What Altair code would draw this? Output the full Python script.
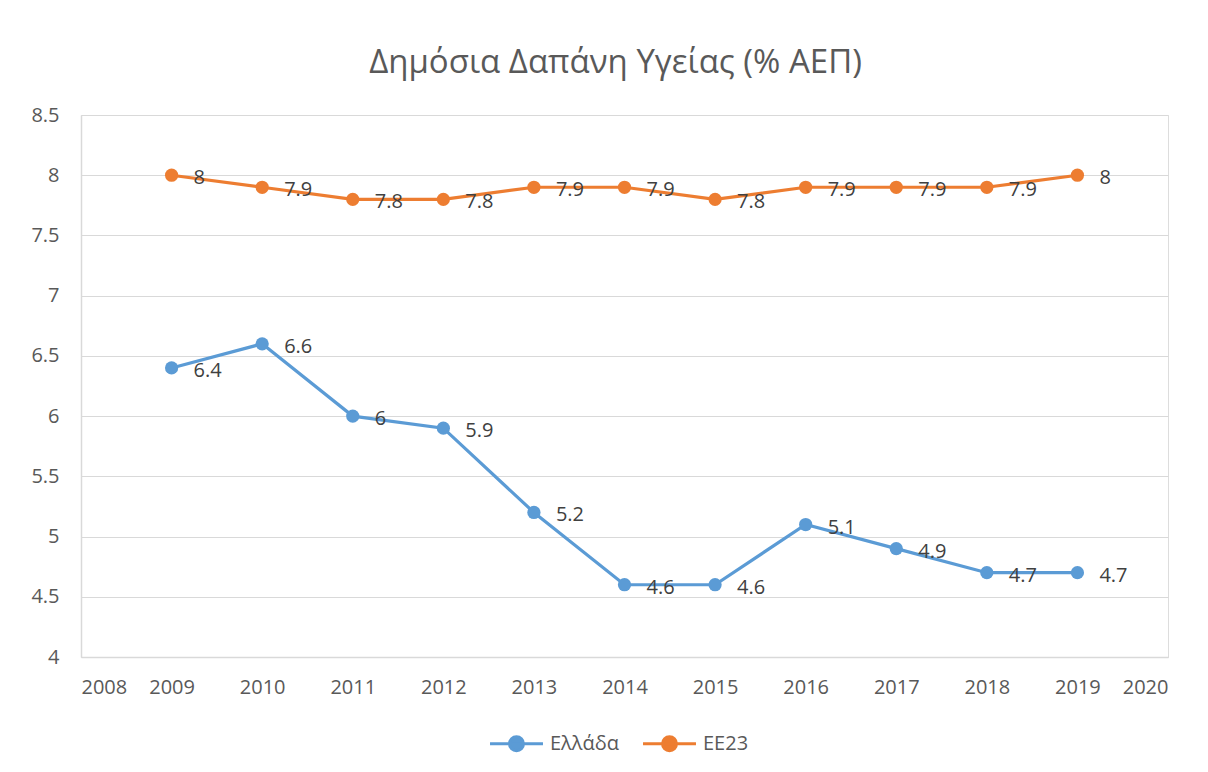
import altair as alt
import pandas as pd

years = [2009, 2010, 2011, 2012, 2013, 2014, 2015, 2016, 2017, 2018, 2019]
greece = [6.4, 6.6, 6.0, 5.9, 5.2, 4.6, 4.6, 5.1, 4.9, 4.7, 4.7]
eu23 = [8.0, 7.9, 7.8, 7.8, 7.9, 7.9, 7.8, 7.9, 7.9, 7.9, 8.0]
series_names = ["Ελλάδα", "ΕΕ23"]
series_colors = ["#5B9BD5", "#ED7D31"]
x_ticks = list(range(2008, 2021))
y_ticks = [4, 4.5, 5, 5.5, 6, 6.5, 7, 7.5, 8, 8.5]

rows = []
for name, vals in zip(series_names, [greece, eu23]):
    for y, v in zip(years, vals):
        rows.append({"year": y, "value": v, "series": name, "label": f"{v:g}"})
df = pd.DataFrame(rows)

FONT = "Open Sans"
GREY = "#595959"

x = alt.X("year:Q", scale=alt.Scale(domain=[2008, 2020], nice=False),
          axis=alt.Axis(values=x_ticks, format="d", title=None, grid=False, ticks=False,
                        labelFontSize=20, labelColor=GREY, labelFont=FONT, labelPadding=20,
                        domainColor="#d9d9d9", domainWidth=1.5))
y = alt.Y("value:Q", scale=alt.Scale(domain=[4, 8.5], nice=False, zero=False),
          axis=alt.Axis(values=y_ticks, format="~g", title=None, ticks=False, gridColor="#d9d9d9",
                        labelFontSize=20, labelColor=GREY, labelFont=FONT, labelPadding=22,
                        domainColor="#d9d9d9", domainWidth=1.5))

legend_path = "M-1.4,0L1.4,0M-0.37,0A0.37,0.37,0,1,0,0.37,0A0.37,0.37,0,1,0,-0.37,0Z"
leg = alt.Legend(title=None, orient="none", legendX=415, legendY=608, direction="horizontal",
                 symbolType=legend_path, symbolSize=1430, symbolStrokeWidth=3,
                 labelFontSize=20, labelColor=GREY, labelFont=FONT,
                 columnPadding=18, labelOffset=13)
scale = alt.Scale(domain=series_names, range=series_colors)

line = alt.Chart(df).mark_line(strokeWidth=3.2).encode(
    x=x, y=y, color=alt.Color("series:N", scale=scale, legend=leg, sort=series_names))
pts = alt.Chart(df).mark_point(filled=True, size=175, opacity=1).encode(
    x=x, y=y, fill=alt.Fill("series:N", scale=scale, legend=leg, sort=series_names))
labels = alt.Chart(df).mark_text(align="left", baseline="middle", dx=22, dy=3, fontSize=20,
                                 font=FONT, color="#404040").encode(x=x, y=y, text="label:N")

chart = alt.layer(line, pts, labels).properties(
    width=1087, height=542,
    title=alt.TitleParams("Δημόσια Δαπάνη Υγείας (% ΑΕΠ)", fontSize=33, font=FONT, color=GREY,
                          fontWeight="normal", anchor="middle", offset=25, dx=-9),
    padding={"left": 73, "top": 107, "right": 30, "bottom": 140},
    autosize=alt.AutoSizeParams(type="none"),
).configure_view(stroke=None).configure(background="white")

chart.save("out.html", embed_options={"renderer": "svg", "actions": False})
